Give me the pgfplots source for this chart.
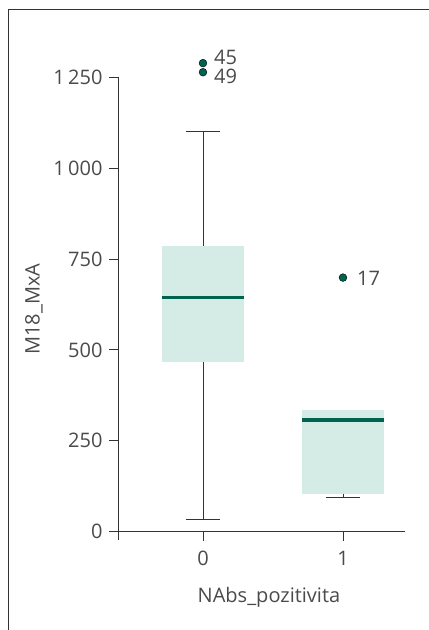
\documentclass[border=0pt]{standalone}
\usepackage{pgfplots}
\pgfplotsset{compat=1.18}
\usepackage{fontspec}
\setmainfont{Open Sans}
\definecolor{boxfill}{HTML}{D5EBE5}
\definecolor{dgreen}{HTML}{006350}
\definecolor{txt}{HTML}{4A4A4A}
\definecolor{axl}{HTML}{333333}
\begin{document}
\begin{tikzpicture}
\begin{axis}[
  scale only axis,
  width=287bp, height=454.4bp,
  at={(118bp,98.3bp)}, anchor=south west,
  xmin=-0.607, xmax=1.443,
  ymin=0, ymax=1250,
  clip=false,
  axis lines=left,
  axis line style={-, draw=axl, line width=0.9bp},
  tick style={draw=axl, line width=0.9bp},
  tick align=outside,
  major tick length=9bp,
  xtick={0,1}, xticklabels={0,1},
  ytick={0,250,500,750,1000,1250},
  yticklabels={0,250,500,750,{1\,000},{1\,250}},
  ticklabel style={font=\fontsize{20bp}{22bp}\selectfont, text=txt},
  yticklabel style={xshift=-3bp},
  xticklabel style={yshift=-7bp},
  label style={font=\fontsize{20bp}{22bp}\selectfont, text=txt},
  xlabel={NAbs\_pozitivita},
  ylabel={M18\_MxA},
  xlabel style={at={(rel axis cs:0.526,-0.1452)}, anchor=center},
  ylabel style={at={(rel axis cs:-0.2927,0.49)}, anchor=center},
  whisk/.style={draw=axl, line width=0.9bp, mark=none},
  med/.style={draw=dgreen, line width=3.2bp, mark=none},
  outl/.style={only marks, mark=*, mark size=3.9bp, mark options={fill=dgreen, draw=none}},
  lab/.style={only marks, mark=none, nodes near coords, point meta=explicit symbolic,
    nodes near coords style={anchor=west, inner sep=0pt,
      font=\fontsize{20bp}{22bp}\selectfont, text=txt}},
]
% ---- group 0: q1=468, median=644, q3=786, whiskers 35 / 1100
\addplot[fill=boxfill, draw=none] coordinates {(-0.293,468) (0.293,468) (0.293,786) (-0.293,786)} -- cycle;
\addplot[med] coordinates {(-0.29,644) (0.29,644)};
\addplot[whisk] coordinates {(0,786) (0,1100)};
\addplot[whisk] coordinates {(-0.124,1100) (0.124,1100)};
\addplot[whisk] coordinates {(0,468) (0,35)};
\addplot[whisk] coordinates {(-0.124,35) (0.124,35)};
\addplot[outl] coordinates {(0,1289) (0,1264)};
% ---- group 1: q1=105, median=307, q3=335, whiskers 95 / 335
\addplot[fill=boxfill, draw=none] coordinates {(0.707,105) (1.293,105) (1.293,335) (0.707,335)} -- cycle;
\addplot[med] coordinates {(0.71,307) (1.29,307)};
\addplot[whisk] coordinates {(1,105) (1,95)};
\addplot[whisk] coordinates {(0.876,95) (1.124,95)};
\addplot[outl] coordinates {(1,699)};
% ---- outlier case numbers
\addplot[lab, nodes near coords style={xshift=11bp, yshift=6bp}] table[meta=lab] {
x y lab
0 1289 45
};
\addplot[lab, nodes near coords style={xshift=11bp, yshift=-4bp}] table[meta=lab] {
x y lab
0 1264 49
};
\addplot[lab, nodes near coords style={xshift=14bp, yshift=-1bp}] table[meta=lab] {
x y lab
1 699 17
};
\end{axis}
% axis line extensions
\draw[axl, line width=0.9bp] (118bp,98.3bp) -- (118bp,90bp);
\draw[axl, line width=0.9bp] (109bp,98.3bp) -- (118bp,98.3bp);
% outer frame
\draw[axl, line width=1bp] (8.5bp,-5bp) -- (8.5bp,620.5bp) -- (440bp,620.5bp);
\pgfresetboundingbox
\path[use as bounding box] (0,0) rectangle (429bp,630bp);
\end{tikzpicture}
\end{document}
